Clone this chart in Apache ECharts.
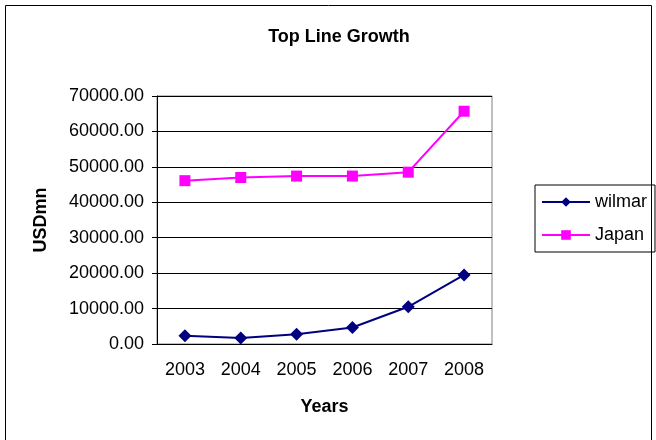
<!DOCTYPE html>
<html><head><meta charset="utf-8">
<script src="https://cdn.jsdelivr.net/npm/echarts@6/dist/echarts.min.js"></script>
<style>html,body{margin:0;padding:0;background:#fff}#c{width:656px;height:440px}</style>
</head><body><div id="c"></div>
<script>
const years = ['2003','2004','2005','2006','2007','2008'];
const wilmar = [2300, 1700, 2750, 4650, 10500, 19500];
const japan = [46100, 47000, 47400, 47400, 48500, 65700];
const chart = echarts.init(document.getElementById('c'));
const F = 'Liberation Sans, Arial, sans-serif';
chart.setOption({
  animation: false,
  backgroundColor: '#fff',
  title: {text: 'Top Line Growth', left: 334, top: 23, textAlign: 'center',
    textStyle: {fontFamily: F, fontSize: 18, fontWeight: 'bold', color: '#000'}},
  graphic: [{type: 'rect', shape: {x: 5.5, y: 5.5, width: 646, height: 440}, style: {fill: 'none', stroke: '#000', lineWidth: 1}, silent: true}],
  legend: {left: 535, top: 185, orient: 'vertical', itemWidth: 48, itemHeight: 12, itemGap: 15,
    padding: [8, 8, 8, 6], borderColor: '#000', borderWidth: 1,
    textStyle: {fontFamily: F, fontSize: 18, color: '#000'}, data: ['wilmar', 'Japan']},
  grid: {left: 157, top: 96, width: 335, height: 248, show: true, borderColor: '#808080', borderWidth: 1},
  xAxis: {type: 'category', data: years, boundaryGap: true, name: 'Years', nameLocation: 'middle', nameGap: 54,
    nameTextStyle: {fontFamily: F, fontSize: 18, fontWeight: 'bold', color: '#000'},
    axisLine: {lineStyle: {color: '#000'}}, axisTick: {length: 5, lineStyle: {color: '#000'}},
    axisLabel: {fontFamily: F, fontSize: 18, color: '#000', margin: 17}},
  yAxis: {type: 'value', min: 0, max: 70000, interval: 10000, name: 'USDmn', nameLocation: 'middle', nameGap: 107,
    nameTextStyle: {fontFamily: F, fontSize: 18, fontWeight: 'bold', color: '#000'},
    axisLine: {show: true, lineStyle: {color: '#000'}}, axisTick: {show: true, length: 5, lineStyle: {color: '#000'}},
    splitLine: {lineStyle: {color: '#000', width: 1}},
    axisLabel: {fontFamily: F, fontSize: 18, color: '#000', margin: 13, formatter: v => v.toFixed(2)}},
  series: [
    {name: 'wilmar', type: 'line', data: wilmar, symbol: 'diamond', symbolSize: 13,
      itemStyle: {color: '#000080'}, lineStyle: {color: '#000080', width: 2}},
    {name: 'Japan', type: 'line', data: japan, symbol: 'rect', symbolSize: 11,
      itemStyle: {color: '#FF00FF'}, lineStyle: {color: '#FF00FF', width: 2}}
  ]
});
</script></body></html>
